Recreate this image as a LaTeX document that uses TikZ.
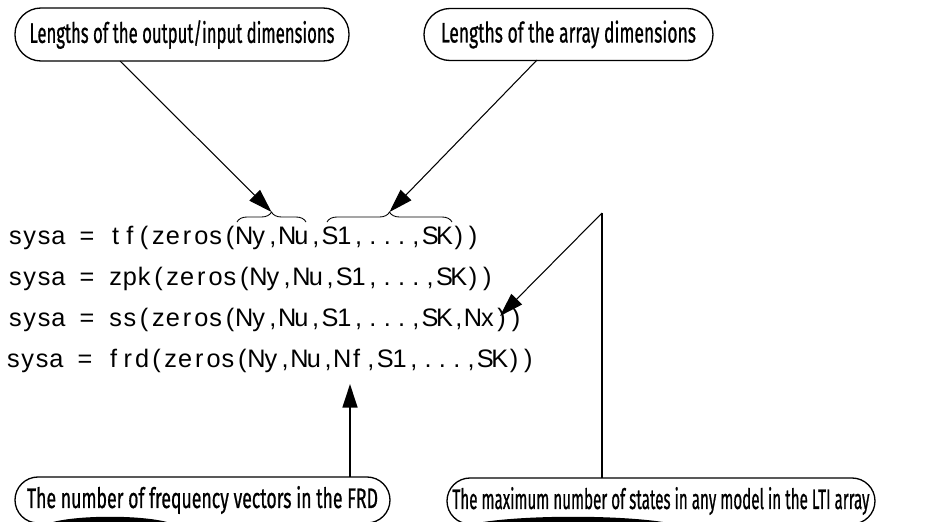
\documentclass[tikz,border=0pt]{standalone}
\usepackage{fontspec}
\usetikzlibrary{arrows.meta,decorations.pathreplacing,calc}
\newfontfamily\codefont{Liberation Sans}
\newfontfamily\callfont[FakeBold=1]{Fira Sans}
\newlength\px \setlength\px{0.02cm}
\newcommand\mcell[1]{\makebox[14.3\px][c]{#1}}
\let\monoend\relax
\def\monoline#1{\monoloop#1\monoend}
\def\monoloop#1{\ifx#1\monoend\else\mcell{#1}\expandafter\monoloop\fi}
\tikzset{
  code/.style={anchor=base west, inner sep=0pt, font=\codefont\fontsize{14.4pt}{15pt}\selectfont},
  callout/.style={draw, line width=0.75pt, inner sep=0pt, font=\callfont\fontsize{16pt}{18pt}\selectfont},
  thinarr/.style={line width=0.6pt, -{Triangle[length=13.5pt,width=8.5pt]}},
  thickarr/.style={line width=1.1pt, -{Triangle[length=13.5pt,width=8.5pt]}},
  thickline/.style={line width=1.1pt},
  bracestyle/.style={line width=0.5pt, decorate, decoration={brace, amplitude=10\px}},
  smear/.style={fill=black},
}
\begin{document}
\begin{tikzpicture}[x=0.02cm, y=-0.02cm]
\clip (0,0) rectangle (950,521);
\fill[white] (0,0) rectangle (950,521);

% callout boxes
\node[callout, rounded corners=26\px, minimum width=334\px, minimum height=53\px] (tl) at (182,34.5)
  {\resizebox{305\px}{\height}{Lengths of the output/input dimensions}};
\node[callout, rounded corners=26\px, minimum width=289\px, minimum height=52\px] (tr) at (568.5,34.5)
  {\resizebox{255\px}{\height}{Lengths of the array dimensions}};
\node[callout, rounded corners=23\px, minimum width=375\px, minimum height=46\px] (bl) at (202.5,500)
  {\resizebox{351\px}{\height}{The number of frequency vectors in the FRD}};
\node[callout, rounded corners=23\px, minimum width=428\px, minimum height=46\px] (br) at (661,501)
  {\resizebox{417\px}{\height}{The maximum number of states in any model in the LTI array}};

% code lines
\node[code] (l1) at (8,244) {\monoline{sysa~=~tf(zeros(Ny,Nu,S1,...,SK))}};
\node[code] (l2) at (8,285) {\monoline{sysa~=~zpk(zeros(Ny,Nu,S1,...,SK))}};
\node[code] (l3) at (8,326) {\monoline{sysa~=~ss(zeros(Ny,Nu,S1,...,SK,Nx))}};
\node[code] (l4) at (6,367) {\monoline{sysa~=~frd(zeros(Ny,Nu,Nf,S1,...,SK))}};

% braces
\coordinate (b1l) at (237,222);
\coordinate (b1r) at (306,222);
\coordinate (b2l) at (327,222);
\coordinate (b2r) at (452,222);
\coordinate (b1tip) at (271.5,212);
\coordinate (b2tip) at (389.5,212);
\draw[bracestyle] (b1l) -- (b1r);
\draw[bracestyle] (b2l) -- (b2r);

% connectors
\coordinate (a1s) at (120,61);
\coordinate (a2s) at (537,60);
\coordinate (knee) at (602,213);
\coordinate (vbot) at (602,478);
\coordinate (nx) at (500,316);
\coordinate (nfbot) at (350,477);
\coordinate (nf) at (350,384);
\draw[thinarr] (a1s) -- (b1tip);
\draw[thinarr] (a2s) -- (b2tip);
\draw[thickline] (vbot) -- (knee);
\draw[thinarr] (knee) -- (nx);
\draw[thickarr] (nfbot) -- (nf);

% dark strokes at the cut bottom edge
\fill[smear] (53,522) .. controls (80,515) and (140,515) .. (167,522) -- cycle;
\fill[smear] (483,522) .. controls (530,515) and (616,515) .. (663,522) -- cycle;
\end{tikzpicture}
\end{document}
